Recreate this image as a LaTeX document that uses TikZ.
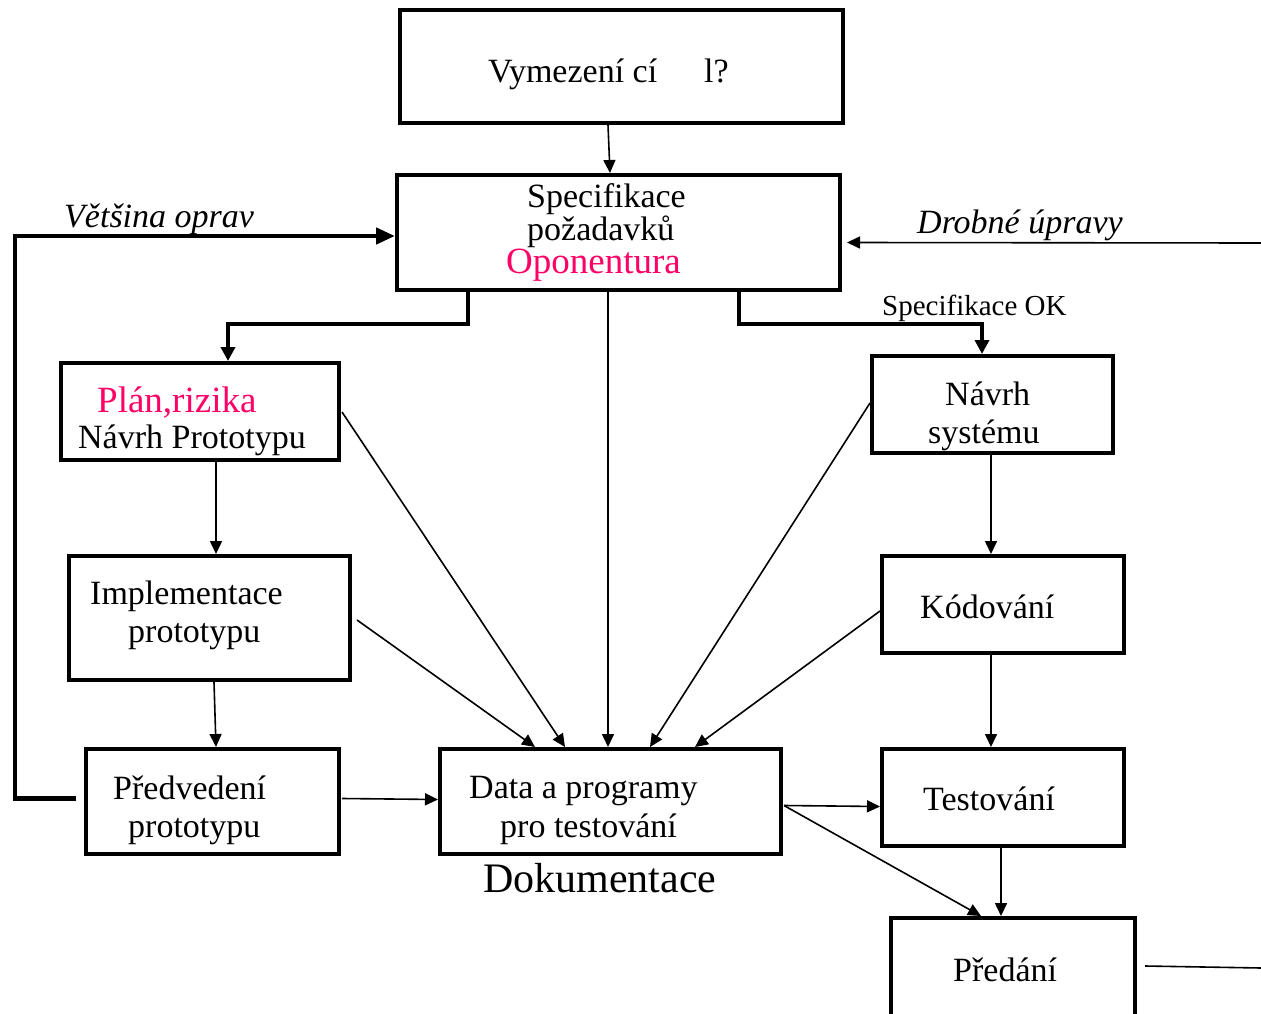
\documentclass[tikz,border=0pt]{standalone}
\usepackage{fontspec}
\setmainfont{Liberation Serif}
\usetikzlibrary{arrows.meta,calc}
\definecolor{pinkred}{RGB}{255,0,102}
\tikzset{
  box/.style={draw, line width=4pt, inner sep=0pt},
  lbl/.style={anchor=base west, inner sep=0pt, font=\fontsize{34}{40}\selectfont},
  pinklbl/.style={lbl, text=pinkred, font=\fontsize{37}{44}\selectfont},
  ital/.style={lbl, font=\fontsize{34}{40}\selectfont\itshape},
  conn/.style={line width=1.6pt, -{Triangle[length=13pt,width=12pt]}},
  plain/.style={line width=1.6pt},
  heavy/.style={line width=4.5pt, -{Triangle[length=19pt,width=16pt]}},
  bracket/.style={line width=3.5pt, -{Triangle[length=14pt,width=14pt]}},
}
\begin{document}
\begin{tikzpicture}[x=1pt,y=-1pt]
\useasboundingbox (0,0) rectangle (1261,1014);

% boxes
\node[box, minimum width=443pt, minimum height=113pt] (goal) at (621.5,66.5) {};
\node[box, minimum width=443pt, minimum height=115pt] (spec) at (618.5,232.5) {};
\node[box, minimum width=278pt, minimum height=97pt]  (plan) at (200,411.5) {};
\node[box, minimum width=241pt, minimum height=97pt]  (nsys) at (992.5,404.5) {};
\node[box, minimum width=281pt, minimum height=124pt] (impl) at (209.5,618) {};
\node[box, minimum width=242pt, minimum height=97pt]  (kod)  at (1003,604.5) {};
\node[box, minimum width=253pt, minimum height=105pt] (pred) at (212.5,801.5) {};
\node[box, minimum width=341pt, minimum height=105pt] (data) at (610.5,801.5) {};
\node[box, minimum width=242pt, minimum height=97pt]  (test) at (1003,797.5) {};
\node[box, minimum width=244pt, minimum height=112pt] (hand) at (1013,974) {};

% texts
\node[lbl] (tgoal) at (488,83) {Vymezení cí\hspace*{47pt}l?};
\node[lbl] (tspec1) at (527,207) {Specifikace};
\node[lbl] (tspec2) at (527,240) {požadavků};
\node[pinklbl] (tspec3) at (506,273) {Oponentura};
\node[pinklbl] (tplan1) at (97,412) {Plán,rizika};
\node[lbl] (tplan2) at (78,448) {Návrh Prototypu};
\node[lbl] (tnsys1) at (945,405) {Návrh};
\node[lbl] (tnsys2) at (928,443) {systému};
\node[lbl] (timpl1) at (90,604) {Implementace};
\node[lbl] (timpl2) at (128,642) {prototypu};
\node[lbl] (tkod) at (920,618) {Kódování};
\node[lbl] (tpred1) at (113,799) {Předvedení};
\node[lbl] (tpred2) at (128,837) {prototypu};
\node[lbl] (tdata1) at (469,798) {Data a programy};
\node[lbl] (tdata2) at (500,837) {pro testování};
\node[lbl, font=\fontsize{42}{48}\selectfont] (tdoc) at (483,892) {Dokumentace};
\node[lbl] (ttest) at (923,810) {Testování};
\node[lbl] (thand) at (953,981) {Předání};
\node[ital] (tmost) at (64,227) {Většina oprav};
\node[ital] (tminor) at (917,233) {Drobné úpravy};
\node[lbl, font=\fontsize{29}{34}\selectfont] (tok) at (882,315) {Specifikace OK};

% free ends at the right margin
\coordinate (inR) at (1261,243);
\coordinate (outR) at (1261,968);

% main flow
\draw[conn] ($(goal.south west)+(210,0)$) -- ($(spec.north west)+(215,0)$);
\draw[heavy] ($(pred.west)+(-8,-3)$) -- ++(-61,0) |- (spec.west |- 0,236);
\draw[conn] (inR) -- ($(spec.east)+(5,10)$);
\draw[bracket] ($(spec.south west)+(73,-4)$) -- ++(0,36) -| ($(plan.north west)+(169,0)$);
\draw[bracket] ($(spec.south west)+(344,-4)$) -- ++(0,36) -| ($(nsys.north west)+(112,0)$);
\draw[conn] ($(spec.south west)+(213,-4)$) -- ($(data.north west)+(170,0)$);

% into the test data box
\draw[conn] ($(plan.north east)+(1,51)$) -- ($(data.north west)+(127,0)$);
\draw[conn] ($(impl.north east)+(5,66)$) -- ($(data.north west)+(97,0)$);
\draw[conn] ($(nsys.north west)+(0,49)$) -- ($(data.north west)+(212,0)$);
\draw[conn] ($(kod.north west)+(0,57)$) -- ($(data.north west)+(257,0)$);

% prototype column
\draw[conn] ($(plan.south west)+(157,0)$) -- ($(impl.north west)+(149,0)$);
\draw[conn] ($(impl.south west)+(147,0)$) -- ($(pred.north west)+(132,0)$);
\draw[conn] ($(pred.east)+(1,-3)$) -- ($(data.west)+(0,-2)$);

% system column
\draw[conn] ($(nsys.south west)+(121,0)$) -- ($(kod.north west)+(111,0)$);
\draw[conn] ($(kod.south west)+(111,0)$) -- ($(test.north west)+(111,0)$);
\draw[conn] ($(data.east)+(1,4)$) -- ($(test.west)+(0,9)$);
\draw[conn] ($(data.east)+(1,4)$) -- ($(hand.north west)+(92,0)$);
\draw[conn] ($(test.south west)+(121,0)$) -- ($(hand.north west)+(112,0)$);
\draw[plain] ($(hand.east)+(8,-8)$) -- (outR);
\end{tikzpicture}
\end{document}
